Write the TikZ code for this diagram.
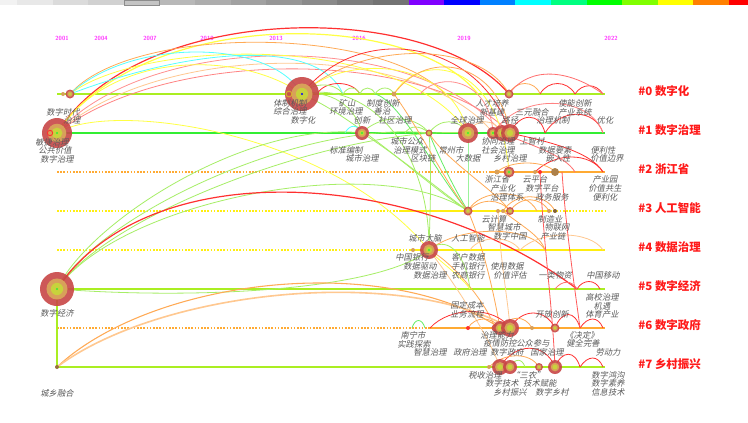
\documentclass[tikz,border=0pt]{standalone}
\usepackage{fontspec}
\newfontfamily\cjk[FakeSlant=0.2]{Noto Sans CJK SC}
\newfontfamily\cjkb{Noto Sans CJK SC}
\definecolor{labgray}{HTML}{5A5A5A}
\definecolor{cred}{HTML}{FF1A1A}
\definecolor{mag}{HTML}{FF33FF}
\definecolor{nred}{HTML}{C84646}
\definecolor{nora}{HTML}{D8A05A}
\definecolor{nyel}{HTML}{C8D23C}
\definecolor{cyg}{HTML}{AAEE22}
\definecolor{cgr}{HTML}{33EE33}
\definecolor{cye}{HTML}{FFEE11}
\definecolor{cor}{HTML}{FFAA33}
\definecolor{ared}{HTML}{FF3030}
\definecolor{apink}{HTML}{FF9090}
\definecolor{aora}{HTML}{FFAA55}
\definecolor{apor}{HTML}{FFC890}
\definecolor{ayel}{HTML}{FFFF44}
\definecolor{acy}{HTML}{55FFFF}
\definecolor{agr}{HTML}{A6EE66}
\definecolor{agr2}{HTML}{66EE66}
\definecolor{bv}{HTML}{8000FF}
\definecolor{bb}{HTML}{0000FF}
\definecolor{baz}{HTML}{0080FF}
\definecolor{bc}{HTML}{00FFFF}
\definecolor{bs}{HTML}{00FF80}
\definecolor{bg}{HTML}{00FF00}
\definecolor{bch}{HTML}{80FF00}
\definecolor{by}{HTML}{FFFF00}
\definecolor{bo}{HTML}{FF8000}
\definecolor{br}{HTML}{FF0000}
\newcommand\bub[3]{%
 \fill[nred,opacity=.9] (#1) circle[radius=#2*0.75pt];
 \fill[nora] (#1) circle[radius=#2*0.62*0.75pt];
 \fill[nyel] (#1) circle[radius=#2*0.36*0.75pt];
 \fill[#3] (#1) circle[radius=0.9pt];}
\newcommand\dotn[3]{\fill[#3] (#1) circle[radius=#2*0.75pt];}
\tikzset{
 lab/.style={font=\cjk\fontsize{6.2}{6.2}\selectfont, text=labgray, inner sep=0pt},
 clab/.style={font=\cjkb\bfseries\fontsize{8.6}{8.6}\selectfont, text=cred, anchor=west, inner sep=0pt},
 yr/.style={font=\sffamily\bfseries\fontsize{4.5}{4.5}\selectfont, text=mag, inner sep=0pt},
 dotl/.style={line width=0.8pt, dash pattern=on 1.2pt off 1.2pt},
}
\begin{document}
\begin{tikzpicture}[x=0.75pt,y=-0.75pt,line width=0.6pt]
\useasboundingbox (0,0) rectangle (748,422);
\fill[white] (0,0) rectangle (748,422);
% colour bar
\foreach \k in {0,...,11}{
 \pgfmathsetmacro\xa{max(0,17+35.6*(\k-1))}
 \pgfmathsetmacro\xb{17+35.6*\k}
 \pgfmathtruncatemacro\g{5+4.6*\k}
 \fill[black!\g] (\xa,0) rectangle (\xb,5);
}
\fill[bv] (408.6,0) rectangle (444.2,5);
\fill[bb] (444.2,0) rectangle (479.8,5);
\fill[baz] (479.8,0) rectangle (515.4,5);
\fill[bc] (515.4,0) rectangle (551,5);
\fill[bs] (551,0) rectangle (586.6,5);
\fill[bg] (586.6,0) rectangle (622.2,5);
\fill[bch] (622.2,0) rectangle (657.8,5);
\fill[by] (657.8,0) rectangle (693.4,5);
\fill[bo] (693.4,0) rectangle (729,5);
\fill[br] (729,0) rectangle (748,5);
\draw[black!45,line width=0.5pt] (124.5,0.4) rectangle (159,5.4);
% years
\foreach \x/\t [count=\i] in {62/2001,101/2004,150/2007,207/2010,276/2013,359/2016,464/2019,611/2022}
 \node[yr] (y\i) at (\x,38) {\t};
% coordinates
\foreach \n/\x/\y in {r0a/63/94,r0b/70/94,r0c/302/94,r0d/394/94,r0e/509/94,r0y/289/94,
 p0a/317/94,p0b/343/94,p0c/360/94,p0d/375/94,p0e/420/94,p0f/478/94,p0g/540/94,p0h/575/94,p0i/603/94,p0j/445/94,
 r1a/57/133,r1r/50/133,r1b/362/133,r1c/429/133,r1d/468/133,r1e/493/133,r1f/502/133,r1g/510/133,
 p1a/345/133,p1b/405/133,p1c/545/133,p1d/603/133,
 r2a/497/172,r2b/509/172,r2c/535/172,r2d/540/172,r2e/555/172,p2a/575/172,p2b/603/172,p2c/562/172,
 r3a/468/211,r3b/498/211,r3c/503/211,r3d/510/211,r3e/549/211,r3f/555/211,p3a/537/211,
 r4a/413/250,r4b/429/250,p4a/470/250,p4b/545/250,p4c/603/250,p4d/520/250,
 r5a/57/289,r5e/577/289,p5a/600/289,p5b/470/289,p5c/555/289,
 r6a/468/328,r6b/495/328,r6c/500/328,r6d/510/328,r6e/532/328,r6f/555/328,p6a/430/328,p6b/412/328,p6c/425/328,p6d/580/328,p6e/603/328,
 r7a/57/367,r7b/489/367,r7c/500/367,r7d/510/367,r7e/539/367,r7f/555/367,p7a/580/367,p7b/603/367,p7d/525/367,
 s0/57/94,e0/605/94,s1/57/133,e1/605/133,s2/57/172,b2/490/172,e2/605/172,
 s3/57/211,b3/400/211,c3/547/211,e3/605/211,s4/57/250,b4/410/250,e4/605/250,
 s5/57/289,e5/605/289,s6/57/328,b6/430/328,e6/605/328,s7/57/367,e7/605/367}
 \coordinate (\n) at (\x,\y);
% row lines
\draw[cyg,line width=1.6pt] (s0) -- (e0);
\draw[cgr,line width=2.2pt] (s1) -- (e1);
\draw[cor,dotl] (s2) -- (b2);
\draw[cor,line width=1.6pt] (b2) -- (e2);
\draw[cye,dotl] (s3) -- (b3);
\draw[cye,line width=1.6pt] (b3) -- (c3);
\draw[cye,dotl] (c3) -- (e3);
\draw[cye,dotl] (s4) -- (b4);
\draw[cye,line width=1.6pt] (b4) -- (e4);
\draw[cyg,line width=1.6pt] (s5) -- (e5);
\draw[cor,dotl] (s6) -- (b6);
\draw[cor,line width=1.6pt] (b6) -- (e6);
\draw[cyg,line width=1.6pt] (s7) -- (e7);
% top arcs
\draw[ared,line width=.9pt] (r1a) .. controls (140,0) and (430,0) .. (r0e);
\draw[ayel,line width=.9pt] (r1a) .. controls (140,8) and (410,8) .. (p0f);
\draw[apink] (r1a) .. controls (150,30) and (420,30) .. (r1f);
\draw[apor] (r1a) .. controls (160,40) and (420,40) .. (r1e);
\draw[ared!60] (r1a) .. controls (170,45) and (430,50) .. (r1g);
\draw[aora] (r0b) .. controls (130,25) and (380,25) .. (p0j);
\draw[ayel] (r0b) .. controls (140,40) and (400,30) .. (r1d);
\draw[acy] (r0b) .. controls (130,38) and (270,38) .. (r0c);
\draw[acy] (r0b) .. controls (200,45) and (320,40) .. (p0b);
\draw[ayel] (r1a) .. controls (110,50) and (240,50) .. (r0c);
\draw[ared] (r0c) .. controls (360,20) and (480,40) .. (r1g);
\draw[aora] (r0c) .. controls (360,40) and (480,40) .. (r0e);
\draw[ayel] (r0c) .. controls (340,55) and (450,55) .. (r1d);
\draw[ayel] (r0d) .. controls (420,50) and (500,60) .. (r2b);
\draw[aora] (r0d) .. controls (430,45) and (500,65) .. (r1g);
\draw[apink] (p0e) .. controls (440,70) and (490,80) .. (r1e);
% row 0 small arcs
\draw[ared] (p0a) .. controls (325,80) and (352,80) .. (p0c);
\draw[agr] (r0c) .. controls (312,82) and (335,82) .. (p0b);
\draw[agr] (p0c) .. controls (363,86) and (372,86) .. (p0d);
\draw[agr] (p0d) .. controls (380,86) and (390,86) .. (r0d);
\draw[agr] (p0b) .. controls (348,86) and (356,86) .. (p0c);
\draw[aora] (r0e) .. controls (515,80) and (535,80) .. (p0g);
\draw[ared] (p0g) .. controls (548,80) and (567,80) .. (p0h);
\draw[ared] (p0h) .. controls (582,83) and (596,83) .. (p0i);
\draw[ared!70] (r0e) .. controls (530,65) and (570,70) .. (p0i);
% row 0 to lower rows
\draw[agr] (r0c) .. controls (330,90) and (355,105) .. (r1b);
\draw[agr] (r0c) .. controls (370,80) and (430,150) .. (r4b);
\draw[agr] (r0c) .. controls (360,120) and (420,180) .. (r3a);
\draw[agr2] (p0d) .. controls (400,100) and (440,180) .. (r3a);
% row 1
\draw[acy] (p1a) .. controls (350,124) and (357,124) .. (r1b);
\draw[agr] (r1b) .. controls (380,114) and (415,114) .. (r1c);
\draw[agr] (p1b) .. controls (410,125) and (420,125) .. (r1c);
\draw[agr] (r1c) .. controls (440,118) and (458,118) .. (r1d);
\draw[apor] (r1d) .. controls (475,118) and (495,118) .. (r1f);
\draw[ared] (r1g) .. controls (520,112) and (540,112) .. (p1c);
\draw[ared] (p1c) .. controls (560,108) and (595,108) .. (p1d);
\draw[ared!60] (r1e) .. controls (520,92) and (590,95) .. (p1d);
\draw[ayel] (r1a) .. controls (110,100) and (330,130) .. (r4b);
% green fan from r5a
\draw[agr] (r5a) .. controls (90,220) and (250,120) .. (r1b);
\draw[agr] (r5a) .. controls (100,215) and (300,120) .. (r1c);
\draw[agr] (r5a) .. controls (110,210) and (350,125) .. (r1d);
\draw[agr] (r5a) .. controls (120,200) and (380,150) .. (r3a);
\draw[agr] (r5a) .. controls (200,300) and (380,290) .. (r4b);
\draw[ared,line width=.9pt] (r5a) .. controls (150,150) and (420,170) .. (r5e);
\draw[cyg,line width=1pt] (r5a) -- (r7a);
% near-vertical
\draw[agr2] (r1d) .. controls (468,160) and (468,185) .. (r3a);
\draw[agr] (r1c) .. controls (432,170) and (430,210) .. (r4b);
\draw[agr] (r1b) .. controls (390,150) and (440,190) .. (r3a);
\draw[agr2] (r1c) .. controls (440,160) and (455,190) .. (r3a);
% row 2
\draw[ared] (r2c) .. controls (555,152) and (590,152) .. (p2b);
\draw[ared] (r1g) .. controls (540,140) and (590,150) .. (p2b);
\draw[ared!70] (r1f) .. controls (530,145) and (565,155) .. (p2a);
\draw[aora] (r2a) .. controls (510,160) and (545,160) .. (r2e);
% row 3
\draw[aora] (r3a) .. controls (480,188) and (525,188) .. (p3a);
\draw[aora] (r3a) .. controls (480,198) and (500,198) .. (r3d);
\draw[aora] (r3d) .. controls (520,196) and (540,196) .. (r3e);
\draw[aora] (r3c) .. controls (515,192) and (545,192) .. (r3f);
\draw[aora] (r0d) .. controls (420,130) and (450,190) .. (r3a);
\draw[aora] (r1c) .. controls (445,160) and (495,190) .. (r3d);
\draw[aora] (r3a) .. controls (485,250) and (495,300) .. (r6c);
\draw[apor] (r3b) .. controls (500,260) and (508,300) .. (r6d);
\draw[aora] (r3c) .. controls (520,225) and (540,235) .. (p4b);
% row 4
\draw[aora] (r4b) .. controls (450,260) and (485,300) .. (r6b);
\draw[aora] (r4b) .. controls (460,225) and (530,225) .. (p4b);
\draw[apor] (p4a) .. controls (480,235) and (510,235) .. (p4d);
\draw[apor] (p4d) .. controls (540,230) and (590,230) .. (p4c);
\draw[apor] (r4b) .. controls (460,290) and (490,340) .. (r7c);
\draw[agr] (r4b) .. controls (445,235) and (465,250) .. (p5b);
\draw[ayel] (r4b) .. controls (440,262) and (460,275) .. (p5b);
% row 5
\draw[ared] (r5e) .. controls (583,279) and (595,279) .. (p5a);
\draw[ared!70] (p5c) .. controls (562,280) and (572,280) .. (r5e);
% bottom long arcs
\draw[aora,line width=.8pt] (r7a) .. controls (150,280) and (380,250) .. (r6c);
\draw[apor,line width=1.2pt] (r7a) .. controls (160,290) and (400,265) .. (r6d);
% row 6
\draw[ared] (p6a) .. controls (450,306) and (495,306) .. (r6d);
\draw[ared] (r6d) .. controls (522,308) and (545,308) .. (r6f);
\draw[ared] (r6f) .. controls (562,310) and (575,310) .. (p6d);
\draw[ared] (p6d) .. controls (588,316) and (598,316) .. (p6e);
\draw[agr2] (p6b) .. controls (415,318) and (422,318) .. (p6c);
\draw[aora] (r6a) .. controls (475,316) and (492,316) .. (r6c);
\draw[aora] (r6c) .. controls (510,315) and (525,315) .. (r6e);
% row 7
\draw[ared] (r7c) .. controls (515,342) and (545,342) .. (r7f);
\draw[ared] (r7f) .. controls (562,350) and (575,350) .. (p7a);
\draw[ared] (p7a) .. controls (588,355) and (598,355) .. (p7b);
\draw[aora] (r7b) .. controls (505,352) and (530,352) .. (r7e);
\draw[agr] (r7d) .. controls (515,358) and (522,358) .. (p7d);
% long red verticals
\draw[ared!80] (r2d) .. controls (543,240) and (552,300) .. (r7f);
\draw[ared!80] (p2c) .. controls (566,230) and (575,290) .. (p6d);
% nodes
\dotn{r0a}{2}{nora}
\bub{r0b}{4.5}{nyel}
\bub{r0c}{17}{blue}
\draw[nyel!70!orange,line width=.6pt] (r0y) circle[radius=2.2pt];
\dotn{r0d}{2.5}{nora}
\bub{r0e}{4.5}{nyel}
\bub{r1a}{15}{cgr}
\draw[ared,line width=.7pt] (r1r) circle[radius=2pt];
\bub{r1b}{7}{cgr}
\bub{r1c}{3.5}{nyel}
\bub{r1d}{10}{cgr}
\bub{r1e}{6}{cgr}
\bub{r1f}{8}{cgr}
\bub{r1g}{9}{nyel}
\dotn{r2a}{2.5}{nora}
\bub{r2b}{5.5}{cgr}
\dotn{r2c}{2}{nora}
\dotn{r2d}{2}{ared}
\dotn{r2e}{4}{nora!80!black}
\bub{r3a}{4.5}{nyel}
\dotn{r3b}{2}{nora}
\dotn{r3c}{2}{nora}
\bub{r3d}{4}{nyel}
\dotn{r3e}{2}{nora}
\dotn{r3f}{2}{nora!60!black}
\dotn{r4a}{2}{nora}
\bub{r4b}{9}{cgr}
\bub{r5a}{17}{cgr}
\dotn{r6a}{2}{ared}
\bub{r6b}{3.5}{nyel}
\bub{r6c}{7}{nyel}
\bub{r6d}{9}{nyel}
\dotn{r6e}{2}{nora}
\bub{r6f}{4.5}{nyel}
\dotn{r7a}{2}{nora!70!black}
\dotn{r7b}{2}{nora}
\bub{r7c}{8}{nyel}
\bub{r7d}{7}{nyel}
\bub{r7e}{4}{nyel}
\bub{r7f}{7}{nyel}
% labels
\foreach \x/\y/\t [count=\i] in {63/112/数字时代,72/120/治理,52/142/敏捷治理,55/150/公共价值,57/159/数字治理,
 290/103/体制机制,290/111/综合治理,303/120/数字化,347/103/矿山,346/111/环境治理,383/103/制度创新,382/111/善治,
 362/120/创新,395/120/社区治理,467/120/全球治理,346/150/标准编制,362/158/城市治理,407/141/城市公众,410/150/治理模式,
 423/158/区块链,451/150/常州市,468/158/大数据,492/103/人才培养,492/112/新基建,532/112/三元融合,510/120/路径,
 553/120/治理机制,575/103/使能创新,575/112/产业系统,605/120/优化,498/141/协同治理,532/141/上智村,498/150/社会治理,
 510/158/乡村治理,555/150/数据要素,558/158/嵌入性,603/150/便利性,607/158/价值边界,497/179/浙江省,535/179/云平台,
 503/188/产业化,542/188/数字平台,507/197/治理体系,552/197/政务服务,605/179/产业园,605/188/价值共生,605/197/便利化,
 494/219/云计算,504/227/智慧城市,510/236/数字中国,550/219/制造业,557/227/物联网,553/236/产业链,425/238/城市大脑,
 468/238/人工智能,412/257/中国银行,420/266/数据驱动,430/275/数据治理,468/257/客户数据,468/266/手机银行,468/275/农商银行,
 507/266/使用数据,510/275/价值评估,555/275/一类物资,603/275/中国移动,602/297/高校治理,602/306/机遇,602/314/体育产业,
 467/305/固定成本,467/314/业务流程,552/314/开放创新,413/335/南宁市,414/344/实践探索,430/352/智慧治理,470/352/政府治理,
 497/335/治理能力,500/343/疫情防控,533/343/公众参与,507/352/数字政府,547/352/国家治理,582/335/《决定》,583/343/健全完善,
 608/352/劳动力,485/375/税收治理,502/383/数字技术,510/392/乡村振兴,528/375/“三农”,540/383/技术赋能,552/392/数字乡村,
 608/375/数字鸿沟,608/383/数字素养,608/392/信息技术,57/313/数字经济,57/393/城乡融合}
 \node[lab] (t\i) at (\x,\y) {\t};
% cluster labels
\foreach \t/\y [count=\i from 0] in {数字化/91.5,数字治理/130.5,浙江省/169.5,人工智能/208.5,数据治理/247.5,数字经济/286.5,数字政府/325.5,乡村振兴/364}
 \node[clab] (c\i) at (638,\y) {\#\i\ \t};
\end{tikzpicture}
\end{document}
